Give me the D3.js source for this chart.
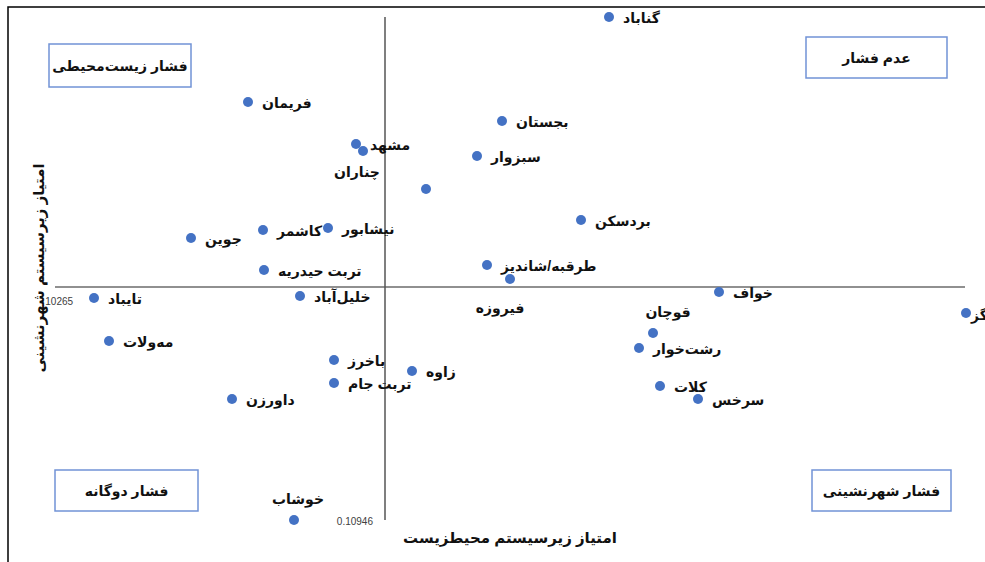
<!DOCTYPE html>
<html><head><meta charset="utf-8">
<script src="https://cdn.jsdelivr.net/npm/d3@7/dist/d3.min.js"></script>
<style>html,body{margin:0;padding:0;background:#fff;overflow:hidden}</style>
</head><body>
<svg id="chart" width="985" height="562"></svg>
<script>
// ---- data ----
const names = ["گناباد","فریمان","بجستان","مشهد","چناران","سبزوار","","بردسکن","نیشابور","کاشمر","جوین","تربت حیدریه","طرقبه/شاندیز","فیروزه","خواف","درگز","تایباد","خلیل‌آباد","قوچان","رشت‌خوار","کلات","سرخس","مه‌ولات","باخرز","زاوه","تربت جام","داورزن","خوشاب"];
const envScore   = [0.15805,0.12195,0.14735,0.13275,0.13345,0.14485,0.13975,0.15525,0.12995,0.12345,0.11625,0.12355,0.14585,0.14815,0.16905,0.19375,0.10655,0.12715,0.16245,0.16105,0.16315,0.16695,0.10805,0.13055,0.13835,0.13055,0.12035,0.12655];
const urbanScore = [0.15976,0.15126,0.14936,0.14706,0.14636,0.14586,0.14256,0.13946,0.13866,0.13846,0.13766,0.13446,0.13496,0.13356,0.13226,0.13016,0.13166,0.13186,0.12816,0.12666,0.12286,0.12156,0.12736,0.12546,0.12436,0.12316,0.12156,0.10946];
const labelPos = ["r","r","r","r","bl","r","r","r","r","r","r","r","r","b","r","rc","r","r","a","r","r","r","r","r","r","r","r","a"];
const xDomain = [0.10265, 0.19365];
const yDomain = [0.10946, 0.15976];
const xCross = 0.13565, yCross = 0.13276;
const xTickLabels = ["0.10265"];
const yTickLabels = ["0.10946"];
const quadrantLabels = ["فشار زیست‌محیطی","عدم فشار","فشار دوگانه","فشار شهرنشینی"];
const xTitle = "امتیاز زیرسیستم محیطزیست";
const yTitle = "امتیاز زیرسیستم شهرنشینی";

// ---- drawing ----
const svg = d3.select("#chart");
const FONT = "Arial, 'DejaVu Sans', sans-serif";
const x = d3.scaleLinear().domain(xDomain).range([55, 965]);
const y = d3.scaleLinear().domain(yDomain).range([520, 17]);

// outer frame
svg.append("rect").attr("x",8).attr("y",7).attr("width",1000).attr("height",600)
  .attr("fill","none").attr("stroke","#000").attr("stroke-width",1.5);

// axes crossing lines
svg.append("line").attr("x1",x(xDomain[0])).attr("x2",x(xDomain[1]))
  .attr("y1",y(yCross)).attr("y2",y(yCross)).attr("stroke","#6b6b6b").attr("stroke-width",1.5);
svg.append("line").attr("x1",x(xCross)).attr("x2",x(xCross))
  .attr("y1",y(yDomain[0])).attr("y2",y(yDomain[1])).attr("stroke","#555").attr("stroke-width",1.5);

// tick labels
svg.append("text").attr("x",x(xDomain[0])).attr("y",y(yCross)+18).attr("text-anchor","middle")
  .attr("font-family",FONT).attr("font-size",10).attr("fill","#404040").text(xTickLabels[0]);
svg.append("text").attr("x",x(xCross)-12).attr("y",y(yDomain[0])+5).attr("text-anchor","end")
  .attr("font-family",FONT).attr("font-size",10).attr("fill","#404040").text(yTickLabels[0]);

// quadrant boxes
const boxes = [[49,44,142,43],[806,37,141,41],[55,470,143,41],[812,470,139,41]];
boxes.forEach((b,i)=>{
  svg.append("rect").attr("x",b[0]).attr("y",b[1]).attr("width",b[2]).attr("height",b[3])
    .attr("fill","#fff").attr("stroke","#7193d6").attr("stroke-width",1.5);
  svg.append("text").attr("x",b[0]+b[2]/2).attr("y",b[1]+b[3]/2+5).attr("text-anchor","middle")
    .attr("font-family",FONT).attr("font-size",14).attr("font-weight","bold").attr("fill","#111")
    .text(quadrantLabels[i]);
});

// points
const data = names.map((n,i)=>({n, x:envScore[i], y:urbanScore[i], p:labelPos[i]}));
svg.append("g").selectAll("circle").data(data).join("circle")
  .attr("cx",d=>x(d.x)).attr("cy",d=>y(d.y)).attr("r",5).attr("fill","#4472C4");

// labels
const lg = svg.append("g").attr("font-family",FONT).attr("font-size",14).attr("font-weight","bold").attr("fill","#111");
data.filter(d=>d.n).forEach(d=>{
  let tx = x(d.x), ty = y(d.y), anchor = "start";
  if (d.p==="r"){ tx += 14; ty += 6; }
  else if (d.p==="rc"){ tx += 5; ty += 7; }
  else if (d.p==="bl"){ tx -= 6; ty += 26; anchor="middle"; }
  else if (d.p==="b"){ tx -= 10; ty += 34; anchor="middle"; }
  else if (d.p==="a"){ tx += (d.n==="خوشاب"?4:15); ty -= 16; anchor="middle"; }
  lg.append("text").attr("x",tx).attr("y",ty).attr("text-anchor",anchor).text(d.n);
});

// axis titles
svg.append("text").attr("x",510).attr("y",543).attr("text-anchor","middle")
  .attr("font-family",FONT).attr("font-size",15).attr("font-weight","bold").attr("fill","#111").text(xTitle);
const yt = svg.append("g").attr("transform","translate(44,268) rotate(-90)");
yt.append("rect").attr("x",-102).attr("y",-15).attr("width",204).attr("height",16).attr("fill","#fff");
yt.append("text").attr("x",0).attr("y",0).attr("text-anchor","middle")
  .attr("font-family",FONT).attr("font-size",15).attr("font-weight","bold").attr("fill","#111").text(yTitle);
</script>
</body></html>
